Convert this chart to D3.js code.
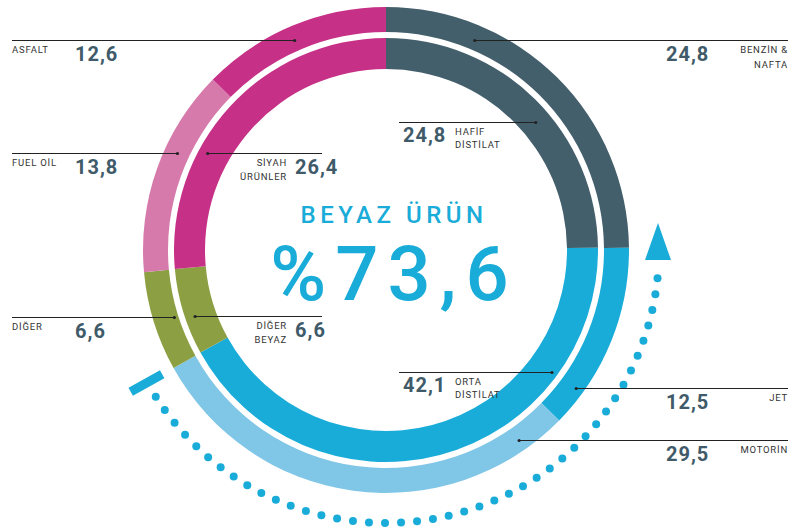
<!DOCTYPE html>
<html>
<head>
<meta charset="utf-8">
<script src="https://cdn.jsdelivr.net/npm/d3@7"></script>
<style>
	body { margin: 0; background: #fff; }
	svg { display: block; }
</style>
</head>
<body>
<div id="chart"></div>
<script>

///////////////////////////////////////////////////////////////////////////
///////////////////////////////// Data ////////////////////////////////////
///////////////////////////////////////////////////////////////////////////

var outerNames = ["BENZİN &|NAFTA", "JET", "MOTORİN", "DİĞER", "FUEL OİL", "ASFALT"];
var outerValues = [24.8, 12.5, 29.5, 6.6, 13.8, 12.6];
var outerColors = ["#445f6c", "#1aacd9", "#80c6e6", "#8c9f42", "#d67aab", "#c63187"];

var innerNames = ["HAFİF|DİSTİLAT", "ORTA|DİSTİLAT", "DİĞER|BEYAZ", "SİYAH|ÜRÜNLER"];
var innerValues = [24.8, 42.1, 6.6, 26.4];
var innerColors = ["#445f6c", "#1aacd9", "#8c9f42", "#c63187"];

var centerTitle = "BEYAZ ÜRÜN";
var centerValue = "%73,6";

///////////////////////////////////////////////////////////////////////////
//////////////////////////// Set up the svg ///////////////////////////////
///////////////////////////////////////////////////////////////////////////

var width = 805,
	height = 530,
	cx = 386,
	cy = 250;

var svg = d3.select("#chart").append("svg")
	.attr("width", width)
	.attr("height", height);

var g = svg.append("g")
	.attr("transform", "translate(" + cx + "," + cy + ")");

var fmt = function(v) { return d3.format(".1f")(v).replace(".", ","); };

var blue = "#1aacd9",
	numColor = "#3f5a68",
	textColor = "#333",
	font = "Roboto, 'Open Sans', sans-serif";

///////////////////////////////////////////////////////////////////////////
/////////////////////////////// The rings /////////////////////////////////
///////////////////////////////////////////////////////////////////////////

var pie = d3.pie().sort(null).value(function(d) { return d; });

var outerArc = d3.arc().innerRadius(218).outerRadius(243);
var innerArc = d3.arc().innerRadius(181).outerRadius(212);

g.selectAll(".outer")
	.data(pie(outerValues))
	.enter().append("path")
	.attr("class", "outer")
	.attr("d", outerArc)
	.style("fill", function(d, i) { return outerColors[i]; });

g.selectAll(".inner")
	.data(pie(innerValues))
	.enter().append("path")
	.attr("class", "inner")
	.attr("d", innerArc)
	.style("fill", function(d, i) { return innerColors[i]; });

///////////////////////////////////////////////////////////////////////////
///////////////////////// Dotted arrow round it ///////////////////////////
///////////////////////////////////////////////////////////////////////////

var dotR = 273;
var rad = function(deg) { return deg * Math.PI / 180; };

//Tick at the end of the white products (boundary of the outer ring)
var whiteEnd = pie(outerValues)[2].endAngle;
g.append("line")
	.attr("x1", 256 * Math.sin(whiteEnd))
	.attr("y1", -256 * Math.cos(whiteEnd))
	.attr("x2", 292 * Math.sin(whiteEnd))
	.attr("y2", -292 * Math.cos(whiteEnd))
	.style("stroke", blue)
	.style("stroke-width", 9);

var dotAngles = d3.range(237.5, 95, -3.37);
g.selectAll(".dot")
	.data(dotAngles)
	.enter().append("circle")
	.attr("class", "dot")
	.attr("cx", function(d) { return dotR * Math.sin(rad(d)); })
	.attr("cy", function(d) { return -dotR * Math.cos(rad(d)); })
	.attr("r", 4)
	.style("fill", blue);

g.append("path")
	.attr("d", "M0,-27L13,10L-13,10Z")
	.attr("transform", "translate(" + (dotR - 1) + ",0)")
	.style("fill", blue);

///////////////////////////////////////////////////////////////////////////
////////////////////////////// Center text ////////////////////////////////
///////////////////////////////////////////////////////////////////////////

g.append("text")
	.attr("x", 8)
	.attr("y", -27)
	.attr("text-anchor", "middle")
	.style("font-family", font)
	.style("font-weight", 500)
	.style("font-size", "24px")
	.style("letter-spacing", "4.5px")
	.style("fill", blue)
	.text(centerTitle);

g.append("text")
	.attr("x", 8)
	.attr("y", 50)
	.attr("text-anchor", "middle")
	.style("font-family", font)
	.style("font-weight", 500)
	.style("font-size", "76px")
	.style("letter-spacing", "9px")
	.style("fill", blue)
	.text(centerValue);

///////////////////////////////////////////////////////////////////////////
//////////////////////////////// Labels ///////////////////////////////////
///////////////////////////////////////////////////////////////////////////

//Placement of every label: y of the leader line, anchor radius and side
var outerPlace = [
	{ y: 40, r: 228, side: "right" },
	{ y: 388, r: 235, side: "right" },
	{ y: 440, r: 232, side: "right" },
	{ y: 317, r: 222, side: "left" },
	{ y: 153, r: 230, side: "left" },
	{ y: 40, r: 229, side: "left" }
];
var innerPlace = [
	{ y: 122, r: 197, side: "midRight" },
	{ y: 372, r: 206, side: "midRight" },
	{ y: 316, r: 202, side: "midLeft" },
	{ y: 153, r: 203, side: "midLeft" }
];

function anchorX(p) {
	var dy = p.y - cy,
		dx = Math.sqrt(p.r * p.r - dy * dy);
	return p.side === "right" || p.side === "midRight" ? cx + dx : cx - dx;
}

//Line ends and text positions for each side
var sideLayout = {
	left:     { lineEnd: 12,  nameX: 12,  nameAnchor: "start", valueX: 75,  nameDy: 13, lineGap: 14, valueDy: 21 },
	right:    { lineEnd: 788, nameX: 788, nameAnchor: "end",   valueX: 666, nameDy: 13, lineGap: 15, valueDy: 21 },
	midRight: { lineEnd: 399, nameX: 455, nameAnchor: "start", valueX: 403, nameDy: 13, lineGap: 13, valueDy: 20 },
	midLeft:  { lineEnd: 322, nameX: 287, nameAnchor: "end",   valueX: 295, nameDy: 13, lineGap: 14, valueDy: 21 }
};

var labels = [];
outerNames.forEach(function(n, i) { labels.push({ name: n, value: outerValues[i], place: outerPlace[i] }); });
innerNames.forEach(function(n, i) { labels.push({ name: n, value: innerValues[i], place: innerPlace[i] }); });

var lab = svg.selectAll(".label")
	.data(labels)
	.enter().append("g")
	.attr("class", "label");

lab.append("line")
	.attr("x1", function(d) { return anchorX(d.place); })
	.attr("x2", function(d) { return sideLayout[d.place.side].lineEnd; })
	.attr("y1", function(d) { return d.place.y + 0.5; })
	.attr("y2", function(d) { return d.place.y + 0.5; })
	.style("stroke", "#222")
	.style("stroke-width", 1.2);

lab.append("circle")
	.attr("cx", function(d) { return anchorX(d.place); })
	.attr("cy", function(d) { return d.place.y + 0.5; })
	.attr("r", 1.6)
	.style("fill", "#222");

lab.append("text")
	.attr("x", function(d) { return sideLayout[d.place.side].valueX; })
	.attr("y", function(d) { return d.place.y + sideLayout[d.place.side].valueDy; })
	.style("font-family", font)
	.style("font-weight", 700)
	.style("font-size", "20px")
	.style("letter-spacing", "1px")
	.style("fill", numColor)
	.text(function(d) { return fmt(d.value); });

lab.each(function(d) {
	var s = sideLayout[d.place.side];
	d3.select(this).selectAll(".name")
		.data(d.name.split("|"))
		.enter().append("text")
		.attr("class", "name")
		.attr("x", s.nameX)
		.attr("y", function(t, j) { return d.place.y + s.nameDy + j * s.lineGap; })
		.attr("text-anchor", s.nameAnchor)
		.style("font-family", font)
		.style("font-size", "9.5px")
		.style("letter-spacing", "0.8px")
		.style("fill", textColor)
		.text(function(t) { return t; });
});

</script>
</body>
</html>
